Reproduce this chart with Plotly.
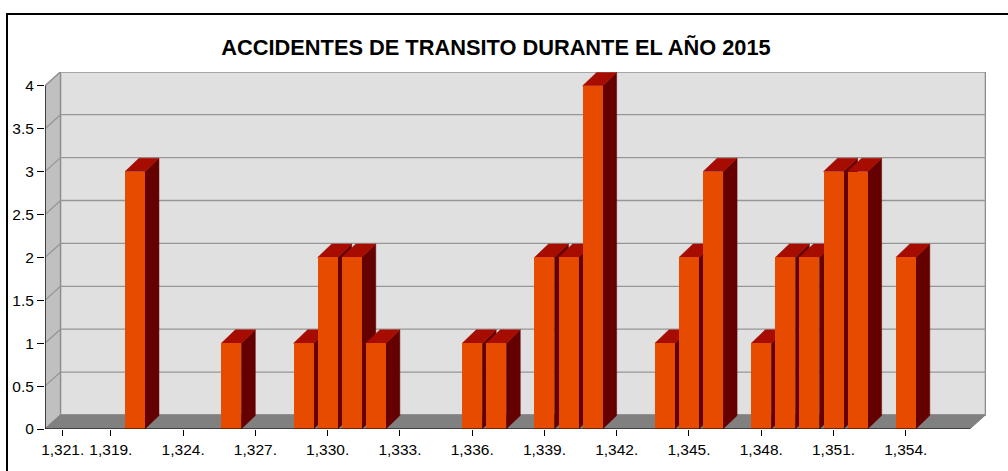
import plotly.graph_objects as go

# Categories along the horizontal axis (one slot per category)
categorias = [
    "1,321.", "1,320.", "1,319.", "1,322.", "1,323.", "1,324.", "1,325.", "1,326.",
    "1,327.", "1,328.", "1,329.", "1,330.", "1,331.", "1,332.", "1,333.", "1,334.",
    "1,335.", "1,336.", "1,337.", "1,338.", "1,339.", "1,340.", "1,341.", "1,342.",
    "1,343.", "1,344.", "1,345.", "1,346.", "1,347.", "1,348.", "1,349.", "1,350.",
    "1,351.", "1,352.", "1,353.", "1,354.",
]

# Number of accidents per category
accidentes = [
    0, 0, 0, 3, 0, 0, 0, 1, 0, 0, 1, 2, 2, 1, 0, 0, 0, 1,
    1, 0, 2, 2, 4, 0, 0, 1, 2, 3, 0, 1, 2, 2, 3, 3, 0, 2,
]

# Category labels printed under the axis
etiquetas = [
    "1,321.", "1,319.", "1,324.", "1,327.", "1,330.", "1,333.", "1,336.",
    "1,339.", "1,342.", "1,345.", "1,348.", "1,351.", "1,354.",
]

# Value axis ticks
y_ticks = [0, 0.5, 1, 1.5, 2, 2.5, 3, 3.5, 4]
y_ticktext = ["0", "0.5", "1", "1.5", "2", "2.5", "3", "3.5", "4"]

titulo = "ACCIDENTES DE TRANSITO DURANTE EL AÑO 2015"

# ---- geometry of the pseudo-3D box ----
W, H = 1008, 471
M_L, M_R, M_T, M_B = 45, 22, 72, 42
plot_w = W - M_L - M_R
plot_h = H - M_T - M_B
x_range = [-0.735, 38.33]
y_range = [0, 4.161]
px_x = plot_w / (x_range[1] - x_range[0])
px_y = plot_h / (y_range[1] - y_range[0])

x_left = x_range[0]
x_front_right = 37.66
y_top = y_ticks[-1]

# depth offsets (walls and columns)
dxw, dyw = 15.5 / px_x, 14.0 / px_y
dxb, dyb = 14.0 / px_x, 13.4 / px_y
bar_w = 20.0 / px_x

FONT = "Liberation Sans, Arial, sans-serif"
C_FRONT = "#E64B00"
C_TOP = "#A60C00"
C_SIDE = "#640000"

x_pos = list(range(len(categorias)))

# side and top faces of each column, derived from the values
side_x, side_y, top_x, top_y = [], [], [], []
for xi, v in zip(x_pos, accidentes):
    if v <= 0:
        continue
    l, r = xi - bar_w / 2, xi + bar_w / 2
    side_x += [r, r + dxb, r + dxb, r, r, None]
    side_y += [0, dyb, v + dyb, v, 0, None]
    top_x += [l, r, r + dxb, l + dxb, l, None]
    top_y += [v, v, v + dyb, v + dyb, v, None]

fig = go.Figure()
fig.add_trace(go.Scatter(
    x=side_x, y=side_y, mode="lines", fill="toself", fillcolor=C_SIDE,
    line=dict(color=C_SIDE, width=0.5), hoverinfo="skip", showlegend=False,
))
fig.add_trace(go.Scatter(
    x=top_x, y=top_y, mode="lines", fill="toself", fillcolor=C_TOP,
    line=dict(color=C_TOP, width=0.5), hoverinfo="skip", showlegend=False,
))
fig.add_trace(go.Bar(
    x=x_pos, y=accidentes, width=bar_w, marker=dict(color=C_FRONT, line=dict(width=0)),
    xaxis="x2", yaxis="y2", showlegend=False,
    hovertext=categorias,
))

shapes = []
GRID = "#969696"
# back wall
shapes.append(dict(type="rect", xref="x", yref="y", layer="below",
                   x0=x_left + dxw, x1=x_front_right + dxw, y0=dyw, y1=y_top + dyw,
                   fillcolor="#E0E0E0", line=dict(color="#8C8C8C", width=1.3)))
# left wall
shapes.append(dict(type="path", xref="x", yref="y", layer="below",
                   path=f"M {x_left},0 L {x_left + dxw},{dyw} L {x_left + dxw},{y_top + dyw} L {x_left},{y_top} Z",
                   fillcolor="#C0C0C0", line=dict(color="#8C8C8C", width=1.3)))
# floor
shapes.append(dict(type="path", xref="x", yref="y", layer="below",
                   path=f"M {x_left},0 L {x_front_right},0 L {x_front_right + dxw},{dyw} L {x_left + dxw},{dyw} Z",
                   fillcolor="#808080", line=dict(color="#808080", width=1)))
# gridlines on back wall and left wall
for g in y_ticks[1:]:
    shapes.append(dict(type="line", xref="x", yref="y", layer="below",
                       x0=x_left + dxw, x1=x_front_right + dxw, y0=g + dyw, y1=g + dyw,
                       line=dict(color=GRID, width=1.3)))
    shapes.append(dict(type="line", xref="x", yref="y", layer="below",
                       x0=x_left, x1=x_left + dxw, y0=g, y1=g + dyw,
                       line=dict(color=GRID, width=1.3)))
# axis lines
shapes.append(dict(type="line", xref="x", yref="y", layer="above",
                   x0=x_left, x1=x_left, y0=0, y1=y_top, line=dict(color="black", width=1.2)))
shapes.append(dict(type="line", xref="x", yref="y", layer="above",
                   x0=x_left, x1=x_front_right, y0=0, y1=0, line=dict(color="black", width=1.2)))
# chart frame
shapes.append(dict(type="rect", xref="paper", yref="paper", layer="above",
                   x0=(7 - M_L) / plot_w, x1=(W + 10 - M_L) / plot_w,
                   y0=-(M_B + 10) / plot_h, y1=(plot_h + M_T - 14) / plot_h,
                   line=dict(color="black", width=2), fillcolor="rgba(0,0,0,0)"))

tick_vals = [categorias.index(t) for t in etiquetas]

fig.update_layout(
    width=W, height=H,
    margin=dict(l=M_L, r=M_R, t=M_T, b=M_B, pad=0),
    paper_bgcolor="white", plot_bgcolor="white",
    showlegend=False,
    bargap=0,
    title=dict(text=f"<b>{titulo}</b>", x=496 / W, xanchor="center",
               y=1 - 47 / H, yanchor="middle", yref="container",
               font=dict(family=FONT, size=21.8, color="black")),
    xaxis=dict(range=x_range, tickvals=tick_vals, ticktext=etiquetas,
               ticks="outside", ticklen=6, tickwidth=1.2, tickcolor="black",
               showgrid=False, zeroline=False, showline=False,
               tickfont=dict(family=FONT, size=15.5, color="black")),
    yaxis=dict(range=y_range, tickvals=y_ticks, ticktext=y_ticktext,
               ticks="outside", ticklen=7, tickwidth=1.2, tickcolor="black",
               showgrid=False, zeroline=False, showline=False,
               tickfont=dict(family=FONT, size=15.5, color="black")),
    xaxis2=dict(range=x_range, overlaying="x", visible=False),
    yaxis2=dict(range=y_range, overlaying="y", visible=False),
    shapes=shapes,
)

fig.write_html("out.html")
